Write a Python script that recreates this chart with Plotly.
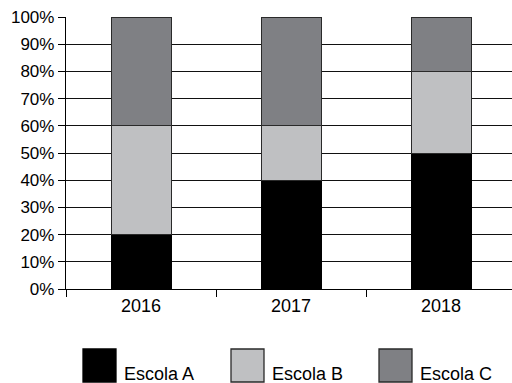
import plotly.graph_objects as go

years = ["2016", "2017", "2018"]
series_names = ["Escola A", "Escola B", "Escola C"]
escola_a = [20, 40, 50]
escola_b = [40, 20, 30]
escola_c = [40, 40, 20]
y_ticks = list(range(0, 101, 10))

colors = ["#000000", "#bfc0c2", "#7f8084"]
borders = ["#000000", "#2a2a2a", "#2a2a2a"]
values = [escola_a, escola_b, escola_c]

FONT = "Liberation Sans, Arial, sans-serif"
W, H = 512, 383
ML, MR, MT, MB = 66, 0, 17, 94

fig = go.Figure()
for name, vals, c, b in zip(series_names, values, colors, borders):
    fig.add_trace(go.Bar(
        x=years, y=vals, name=name, width=0.4,
        marker=dict(color=c, line=dict(color=b, width=1)),
        showlegend=False, hoverinfo="skip",
    ))

cat_px = 150.0
plot_w = W - ML - MR
x_max = -0.5 + plot_w / cat_px

fig.update_layout(
    width=W, height=H,
    margin=dict(l=ML, r=MR, t=MT, b=MB),
    barmode="stack",
    plot_bgcolor="white", paper_bgcolor="white",
    font=dict(family=FONT, size=17, color="#000000"),
    bargap=0.6,
)
fig.update_xaxes(
    type="category", range=[-0.5, x_max],
    showline=True, linecolor="#000000", linewidth=1.3,
    ticks="outside", ticklen=7, tickwidth=1.3, tickcolor="#000000",
    tickson="boundaries", showgrid=False,
    tickfont=dict(size=18),
)
fig.update_yaxes(
    range=[0, 100], tickvals=y_ticks,
    ticktext=[f"{v}%" for v in y_ticks],
    showline=True, linecolor="#000000", linewidth=1.3,
    ticks="outside", ticklen=7, tickwidth=1.3, tickcolor="#000000",
    showgrid=True, gridcolor="#111111", gridwidth=1.3,
    zeroline=False, tickfont=dict(size=17),
)

# custom legend (large swatches below the plot)
plot_h = H - MT - MB
def px_to_paper_x(px):
    return (px - ML) / plot_w
def px_to_paper_y(py):
    return (H - MB - py) / plot_h

sw_left = [83, 231, 379]
sw_size = 33
sw_top = 349
for name, c, b, xl in zip(series_names, colors, borders, sw_left):
    fig.add_shape(
        type="rect", xref="paper", yref="paper",
        x0=px_to_paper_x(xl), x1=px_to_paper_x(xl + sw_size),
        y0=px_to_paper_y(sw_top + sw_size), y1=px_to_paper_y(sw_top),
        fillcolor=c, line=dict(color=b, width=1.3),
    )
    fig.add_annotation(
        x=px_to_paper_x(xl + sw_size + 6), y=px_to_paper_y(374),
        xref="paper", yref="paper", xanchor="left", yanchor="middle",
        text=name, showarrow=False, font=dict(size=18),
    )

fig.write_html("out.html")
